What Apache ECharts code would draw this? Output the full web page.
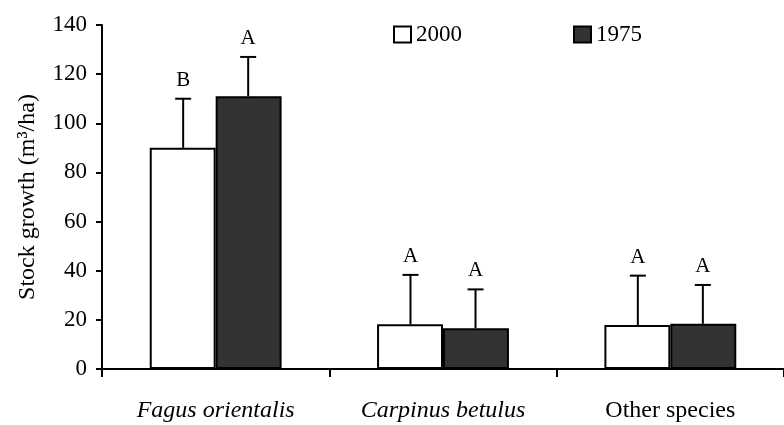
<!DOCTYPE html>
<html>
<head>
<meta charset="utf-8">
<script src="https://cdn.jsdelivr.net/npm/echarts@6/dist/echarts.min.js"></script>
<style>
  html, body { margin: 0; padding: 0; background: #fff; }
  #runChart { width: 784px; height: 425px; }
</style>
</head>
<body>
<div id="runChart"></div>
<script>
  let categories = ["Fagus orientalis", "Carpinus betulus", "Other species"];
  let italicCats = [true, true, false];
  let values2000 = [90, 18.2, 17.9];
  let values1975 = [111, 16.6, 18.4];
  let err2000 = [20, 20.1, 20.1];
  let err1975 = [16, 15.8, 15.8];
  let letters2000 = ["B", "A", "A"];
  let letters1975 = ["A", "A", "A"];
  let yTicks = [0, 20, 40, 60, 80, 100, 120, 140];

  let font = "Liberation Serif";

  function errData(vals, errs, letters) {
    return vals.map(function (v, i) {
      return [i, v, v + errs[i], letters[i]];
    });
  }

  function errRender(side) {
    return function (params, api) {
      let band = api.size([1, 0])[0];
      let x = api.coord([api.value(0), 0])[0] + side * band * 0.143;
      let yb = api.coord([0, api.value(1)])[1];
      let yt = api.coord([0, api.value(2)])[1];
      let st = { stroke: "#000", lineWidth: 2 };
      return {
        type: "group",
        children: [
          { type: "line", shape: { x1: x, y1: yb, x2: x, y2: yt }, style: st },
          { type: "line", shape: { x1: x - 8, y1: yt, x2: x + 8, y2: yt }, style: st },
          {
            type: "text",
            x: x,
            y: yt - 8,
            style: {
              text: api.value(3),
              fill: "#000",
              font: "21px '" + font + "'",
              align: "center",
              verticalAlign: "bottom"
            }
          }
        ]
      };
    };
  }

  let legendText = { fontFamily: font, fontSize: 23, color: "#000" };

  let option = {
    animation: false,
    backgroundColor: "#fff",
    textStyle: { fontFamily: font, color: "#000" },
    legend: [
      {
        left: 393,
        top: 23,
        padding: 0,
        data: ["2000"],
        icon: "rect",
        itemWidth: 17,
        itemHeight: 16,
        textStyle: legendText
      },
      {
        left: 573,
        top: 23,
        padding: 0,
        data: ["1975"],
        icon: "rect",
        itemWidth: 17,
        itemHeight: 16,
        textStyle: legendText
      }
    ],
    grid: {
      left: 102,
      top: 25,
      bottom: 56,
      right: -5,
      containLabel: false
    },
    xAxis: {
      type: "category",
      data: categories,
      boundaryGap: true,
      axisLine: { lineStyle: { color: "#000", width: 2 } },
      axisTick: { show: true, interval: 0, length: 8, lineStyle: { color: "#000", width: 2 } },
      axisLabel: {
        interval: 0,
        margin: 30,
        fontSize: 24,
        color: "#000",
        fontFamily: font,
        formatter: function (v) {
          let i = categories.indexOf(v);
          return italicCats[i] ? "{it|" + v + "}" : "{n|" + v + "}";
        },
        rich: {
          it: { fontStyle: "italic", fontSize: 24, fontFamily: font, color: "#000" },
          n: { fontSize: 24, fontFamily: font, color: "#000" }
        }
      }
    },
    yAxis: {
      type: "value",
      min: yTicks[0],
      max: yTicks[yTicks.length - 1],
      interval: 20,
      name: "Stock growth (m³/ha)",
      nameLocation: "middle",
      nameGap: 62,
      nameTextStyle: { fontFamily: font, fontSize: 24, color: "#000" },
      axisLine: { show: true, lineStyle: { color: "#000", width: 2 } },
      axisTick: { show: true, length: 6, lineStyle: { color: "#000", width: 2 } },
      axisLabel: { margin: 15, fontSize: 23, color: "#000", fontFamily: font },
      splitLine: { show: false }
    },
    series: [
      {
        name: "2000",
        type: "bar",
        data: values2000,
        barGap: "0%",
        barCategoryGap: "42%",
        itemStyle: { color: "#fff", borderColor: "#000", borderWidth: 2 }
      },
      {
        name: "1975",
        type: "bar",
        data: values1975,
        barGap: "0%",
        barCategoryGap: "42%",
        itemStyle: { color: "#333333", borderColor: "#000", borderWidth: 2 }
      },
      {
        type: "custom",
        renderItem: errRender(-1),
        data: errData(values2000, err2000, letters2000),
        encode: { x: 0, y: 1 },
        z: 3
      },
      {
        type: "custom",
        renderItem: errRender(1),
        data: errData(values1975, err1975, letters1975),
        encode: { x: 0, y: 1 },
        z: 3
      }
    ]
  };

  var myChart = echarts.init(document.getElementById("runChart"));
  myChart.setOption(option);
</script>
</body>
</html>
